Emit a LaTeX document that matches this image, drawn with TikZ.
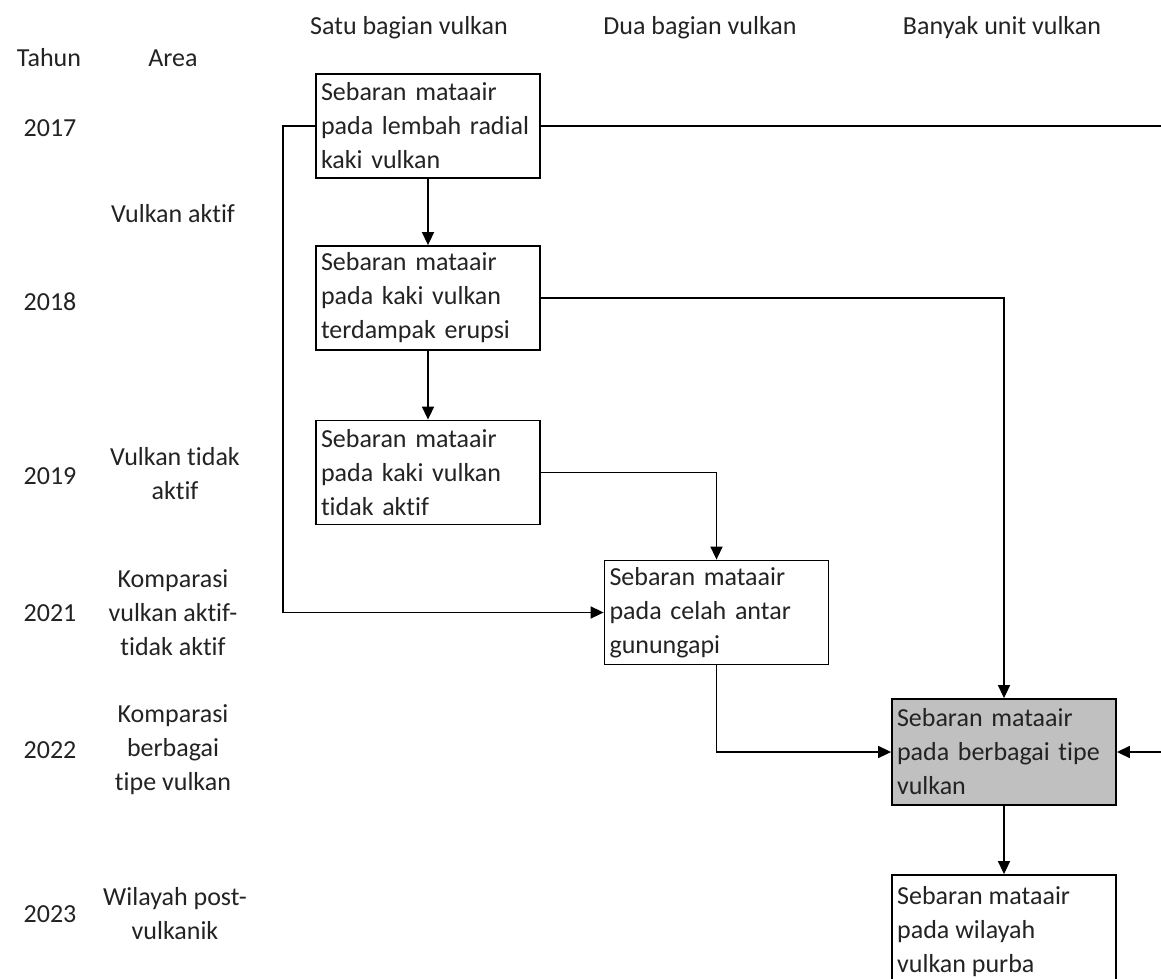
\documentclass[tikz,border=0pt]{standalone}
\usepackage{fontspec}
\setmainfont{Carlito}[Ligatures={NoCommon}]
\usetikzlibrary{arrows.meta}
\definecolor{boxgray}{RGB}{192,192,192}
\definecolor{txt}{RGB}{35,35,35}
\tikzset{
  fbox/.style={draw=black, line width=1.8pt, rectangle, minimum width=224pt, minimum height=104pt, text width=214pt, inner sep=5pt, align=left, text=txt, font=\fontsize{26}{34}\selectfont},
  lbl/.style={align=center, text=txt, font=\fontsize{26}{34}\selectfont, inner sep=0pt},
  conn/.style={line width=1.6pt, -{Triangle[length=13pt,width=12pt]}},
}
\begin{document}
\begin{tikzpicture}[x=1pt,y=-1pt]
\useasboundingbox (0,0) rectangle (1161,979);
\fill[white] (0,0) rectangle (1161,979);
\clip (0,0) rectangle (1161,979);

% headers
\node[lbl] (h1) at (409,28) {Satu bagian vulkan};
\node[lbl] (h2) at (700,28) {Dua bagian vulkan};
\node[lbl] (h3) at (1002,28) {Banyak unit vulkan};
\node[lbl] (ht) at (49,58) {Tahun};
\node[lbl] (ha) at (173,58) {Area};

% years
\node[lbl] (y17) at (50,128) {2017};
\node[lbl] (y18) at (50,302) {2018};
\node[lbl] (y19) at (50,476) {2019};
\node[lbl] (y21) at (50,613) {2021};
\node[lbl] (y22) at (50,750) {2022};
\node[lbl] (y23) at (50,914) {2023};

% areas
\node[lbl] (a1) at (173,214) {Vulkan aktif};
\node[lbl] (a2) at (175,474) {Vulkan tidak\\aktif};
\node[lbl] (a3) at (173,613) {Komparasi\\vulkan aktif-\\tidak aktif};
\node[lbl] (a4) at (173,750) {Komparasi\\berbagai\\tipe vulkan};
\node[lbl] (a5) at (175,914) {Wilayah post-\\vulkanik};

% boxes
\node[fbox] (b1) at (428,126) {Sebaran mataair\\pada lembah radial\\kaki vulkan};
\node[fbox] (b2) at (428,298) {Sebaran mataair\\pada kaki vulkan\\terdampak erupsi};
\node[fbox] (b3) at (428,472.5) {Sebaran mataair\\pada kaki vulkan\\tidak aktif};
\node[fbox] (b4) at (716.5,612.5) {Sebaran mataair\\pada celah antar\\gunungapi};
\node[fbox, fill=boxgray, minimum height=106pt] (b5) at (1004,752) {Sebaran mataair\\pada berbagai tipe\\vulkan};
\node[fbox, minimum height=112pt] (b6) at (1004,931) {};
\node[lbl, anchor=north west, align=left] (b6t) at (897,886) {Sebaran mataair\\pada wilayah\\vulkan purba};

% connector helper coordinates
\coordinate (lft) at (283,0);
\coordinate (rgt) at (1185,0);

% connectors
\draw[conn] (b1.south) -- (b2.north);
\draw[conn] (b2.south) -- (b3.north);
\draw[conn] (b1.west) -- (b1.west -| lft) |- (b4.west);
\draw[conn] (b1.east) -- (b1.east -| rgt) |- (b5.east);
\draw[conn] (b2.east) -| (b5.north);
\draw[conn] (b3.east) -| (b4.north);
\draw[conn] (b4.south) |- (b5.west);
\draw[conn] (b5.south) -- (b6.north);
\end{tikzpicture}
\end{document}
